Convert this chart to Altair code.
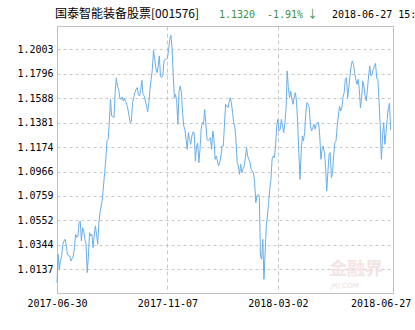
import altair as alt
import pandas as pd

# Daily NAV readings, split into five stretches of the year
nav_jul_sep = [1.0024, 1.0264, 1.0137, 1.0208, 1.0250, 1.0349, 1.0377, 1.0392, 1.0335, 1.0264,
               1.0250, 1.0250, 1.0208, 1.0228, 1.0250, 1.0321, 1.0434, 1.0406, 1.0420, 1.0533,
               1.0547, 1.0377, 1.0490, 1.0462, 1.0392, 1.0349, 1.0109, 1.0250, 1.0448, 1.0420,
               1.0434, 1.0321, 1.0420, 1.0505, 1.0434, 1.0349, 1.0533, 1.0618, 1.0674, 1.0731,
               1.0844, 1.0957, 1.1070, 1.1226, 1.1240, 1.1381, 1.1579, 1.1438, 1.1432, 1.1423,
               1.1636, 1.1757, 1.1692, 1.1664, 1.1593, 1.1579, 1.1599]
nav_sep_nov = [1.1565, 1.1585, 1.1562, 1.1537, 1.1494, 1.1438, 1.1381, 1.1395, 1.1551, 1.1593,
               1.1636, 1.1664, 1.1678, 1.1621, 1.1607, 1.1664, 1.1740, 1.1621, 1.1607, 1.1565,
               1.1522, 1.1472, 1.1551, 1.1664, 1.1749, 1.1833, 1.1997, 1.1918, 1.1848, 1.1805,
               1.1862, 1.1947, 1.1777, 1.1763, 1.1777, 1.1904, 1.1918, 1.1918, 1.1927, 1.2003,
               1.2088, 1.2122, 1.2003, 1.1777, 1.1593, 1.1621, 1.1551, 1.1367, 1.1650, 1.1692,
               1.1636, 1.1466, 1.1353, 1.1325, 1.1240, 1.1155, 1.1296, 1.1240]
nav_nov_feb = [1.1197, 1.1268, 1.1302, 1.1296, 1.1056, 1.1183, 1.1206, 1.1042, 1.1155, 1.1325,
               1.1381, 1.1367, 1.1494, 1.1381, 1.1240, 1.1226, 1.1240, 1.1254, 1.1155, 1.1310,
               1.1240, 1.1070, 1.1098, 1.1056, 1.1014, 1.1042, 1.1098, 1.1183, 1.1183, 1.1353,
               1.1537, 1.1522, 1.1508, 1.1551, 1.1593, 1.1551, 1.1466, 1.1381, 1.1339, 1.1226,
               1.1042, 1.1014, 1.0943, 1.1028, 1.0957, 1.0985, 1.1014, 1.1084, 1.1169, 1.1098,
               1.1070, 1.1042, 1.0985, 1.0971, 1.0957, 1.0872, 1.0703, 1.0759, 1.0773]
nav_feb_apr = [1.0759, 1.0250, 1.0222, 1.0392, 1.0052, 1.0278, 1.0505, 1.0589, 1.0703, 1.0816,
               1.0900, 1.1070, 1.1098, 1.1084, 1.1183, 1.1353, 1.1409, 1.1310, 1.1325, 1.1409,
               1.1353, 1.1296, 1.1381, 1.1494, 1.1819, 1.1678, 1.1593, 1.1650, 1.1579, 1.1537,
               1.1593, 1.1636, 1.1565, 1.1381, 1.1127, 1.0900, 1.1127, 1.1268, 1.1226, 1.1296,
               1.1466, 1.1551, 1.1537, 1.1508, 1.1353, 1.1310, 1.1339, 1.1367, 1.1325, 1.1367,
               1.1381, 1.1381, 1.1268, 1.1070, 1.1155, 1.1183, 1.1127, 1.1014]
nav_apr_jun = [1.0802, 1.0957, 1.1113, 1.1127, 1.0915, 1.0957, 1.1113, 1.1211, 1.1226, 1.1353,
               1.1438, 1.1522, 1.1480, 1.1508, 1.1593, 1.1636, 1.1749, 1.1763, 1.1593, 1.1678,
               1.1777, 1.1862, 1.1904, 1.1876, 1.1805, 1.1749, 1.1706, 1.1749, 1.1664, 1.1508,
               1.1593, 1.1735, 1.1692, 1.1607, 1.1565, 1.1664, 1.1777, 1.1862, 1.1777, 1.1791,
               1.1833, 1.1862, 1.1884, 1.1754, 1.1749, 1.1565, 1.1353, 1.1070, 1.1268, 1.1381,
               1.1197, 1.1296, 1.1409, 1.1508, 1.1545, 1.1320]

y_ticks = [1.0137, 1.0344, 1.0552, 1.0759, 1.0966, 1.1174, 1.1381, 1.1588, 1.1796, 1.2003]
x_tick_idx = [0, 95, 190, 287]
x_tick_labels = ["2017-06-30", "2017-11-07", "2018-03-02", "2018-06-27"]

fund_name = "国泰智能装备股票[001576]"
last_nav = "1.1320"
change = "-1.91%"
arrow = "↓"
stamp = "2018-06-27 15:00"

nav = nav_jul_sep + nav_sep_nov + nav_nov_feb + nav_feb_apr + nav_apr_jun
df = pd.DataFrame({"i": list(range(len(nav))), "v": nav})

label_expr = " : ".join(
    f"datum.value == {v} ? '{l}'" for v, l in zip(x_tick_idx, x_tick_labels)
) + " : ''"

last = x_tick_idx[-1]
first = x_tick_idx[0]
MONO = "DejaVu Sans Mono"
GRID = "#c8c8c8"

line = alt.Chart(df).mark_line(color="#6aaee8", strokeWidth=1).encode(
    x=alt.X("i:Q",
            scale=alt.Scale(domain=[0, 289], nice=False, zero=False),
            axis=alt.Axis(values=x_tick_idx, labelExpr=label_expr, title=None,
                          domain=False, ticks=False, grid=True,
                          gridColor=GRID, gridDash=[4, 3],
                          gridOpacity={"condition": {"test": f"datum.value == {last} || datum.value == {first}", "value": 0}, "value": 1},
                          labelFlush=False, labelFont=MONO, labelFontSize=10,
                          labelColor="#000000", labelPadding=5, labelAngle=0,
                          labelOffset={"condition": {"test": f"datum.value == {last}", "value": -10}, "value": 0})),
    y=alt.Y("v:Q",
            scale=alt.Scale(domain=[0.9936, 1.2201], nice=False, zero=False),
            axis=alt.Axis(values=y_ticks, format=".4f", title=None,
                          domain=False, ticks=False, grid=True,
                          gridColor=GRID, gridDash=[3, 3],
                          labelFont=MONO, labelFontSize=10, labelColor="#000000",
                          labelPadding=4)),
)

one = pd.DataFrame({"k": [0]})


def txt(s, xpx, ypx, color, font, size, **kw):
    return alt.Chart(one).mark_text(text=s, align="left", baseline="alphabetic",
                                    font=font, fontSize=size, color=color, **kw).encode(
        x=alt.value(xpx), y=alt.value(ypx))


green = "#3a8f3a"
t1 = txt(fund_name, -2, -8, "#000000", "Noto Sans CJK SC", 12)
t2 = txt(last_nav, 162, -8, green, MONO, 10)
t3 = txt(change, 210, -8, green, MONO, 10)
t3b = txt(arrow, 250, -8, green, "Noto Sans CJK SC", 11)
t4 = txt(stamp, 275, -8, "#000000", MONO, 10)
wm1 = txt("金融界", 272, 249, "#f4e4e4", "Noto Sans CJK SC", 18, fontWeight="bold")
wm2 = txt("JRJ.COM", 274, 262, "#efdede", "DejaVu Sans", 7, fontStyle="italic")

chart = alt.layer(wm1, wm2, line, t1, t2, t3, t3b, t4).properties(
    width=336, height=267,
    autosize="none",
    padding={"left": 57, "top": 26, "right": 22, "bottom": 37},
    background="#ffffff",
).configure_view(stroke="#c0c0c0", strokeWidth=1)

chart.save("out.html", embed_options={"renderer": "svg", "actions": False})
